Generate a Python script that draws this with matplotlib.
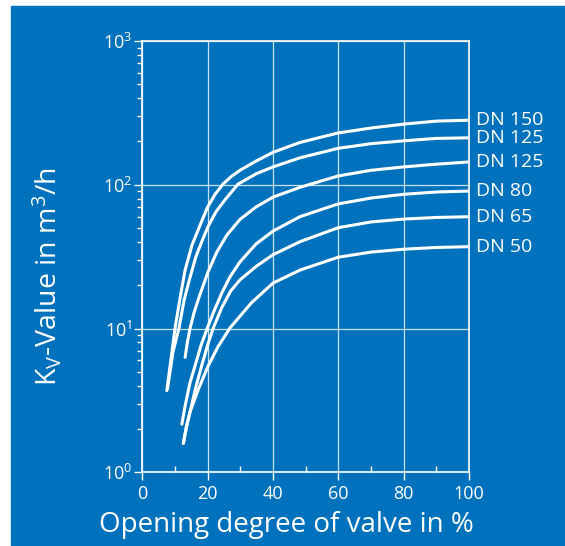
import matplotlib
matplotlib.use('Agg')
from matplotlib import pyplot as plt
from matplotlib.patches import Rectangle
from matplotlib.ticker import MultipleLocator, LogLocator

# Kv curves per nominal size (opening % -> Kv in m3/h)
dn150_open 	= [7.5, 10, 11.7, 13.1, 15.2, 17.7, 20, 22.3, 24.7, 27.2, 29.9, 34.8, 40, 48.3, 59.9, 70, 80, 90, 100]
dn150_kv 	= [3.7, 10, 17, 25.5, 38, 52.5, 70, 86, 101, 114, 126, 146, 168, 197, 229, 248, 264, 277, 281]

dn125a_open = [7.7, 9.4, 11.2, 12.8, 14.4, 16.4, 18.3, 20.1, 22.5, 25, 29.3, 34.8, 40, 48.3, 59.9, 70, 80, 90, 100]
dn125a_kv 	= [3.8, 6.9, 10, 15.8, 21.8, 31.6, 40.7, 51, 64.6, 77, 101, 119, 133, 154, 179, 193, 202, 210, 212]

dn125b_open = [13.1, 13.8, 14.6, 15.8, 17.4, 20.1, 22.8, 25.9, 29.9, 34.8, 40, 48.3, 59.9, 70, 80, 90, 100]
dn125b_kv 	= [6.3, 8.05, 10, 12.8, 16.6, 24.7, 34, 44.7, 57.4, 70, 82, 96, 115, 126, 133, 139, 144]

dn80_open 	= [12.1, 13.1, 14.6, 16.4, 17.9, 19.7, 22.0, 24.4, 26.8, 29.9, 34.8, 40, 48.3, 59.9, 70, 80, 90, 100]
dn80_kv 	= [2.16, 2.9, 4.2, 5.75, 7.55, 9.8, 13.3, 17.8, 22.8, 29.1, 38.7, 47.6, 60, 73.5, 80.8, 85.8, 89, 90.4]

dn65_open 	= [12.55, 13.5, 14.6, 16.4, 18.3, 20.1, 21.7, 24.4, 27.1, 29.9, 34.8, 40, 48.3, 59.9, 70, 80, 90, 100]
dn65_kv 	= [1.59, 2.07, 2.63, 3.93, 5.65, 7.81, 10.07, 14.1, 18.3, 21.8, 27.0, 32.6, 40.2, 50.2, 55.1, 57.7, 59.2, 59.9]

dn50_open 	= [12.55, 13.5, 14.6, 17.05, 20.1, 23.2, 26.85, 33.4, 40, 48.3, 59.9, 70, 80, 90, 100]
dn50_kv 	= [1.59, 2.07, 2.63, 3.73, 5.46, 7.5, 10.1, 15.1, 20.7, 25.5, 31.3, 34.0, 35.6, 36.6, 37.1]

curves = [
	('DN 150', dn150_open, dn150_kv),
	('DN 125', dn125a_open, dn125a_kv),
	('DN 125', dn125b_open, dn125b_kv),
	('DN 80', dn80_open, dn80_kv),
	('DN 65', dn65_open, dn65_kv),
	('DN 50', dn50_open, dn50_kv),
]

blue = '#0071bc'

plt.rcParams['font.family'] 		= ['Open Sans', 'DejaVu Sans']
plt.rcParams['mathtext.default'] 	= 'regular'

fig = plt.figure(figsize=(5.65, 5.46), dpi=100, facecolor='white')
fig.patches.append(Rectangle((11 / 565, 0), 1 - 11 / 565, 540 / 546,
							 transform=fig.transFigure, color=blue, zorder=-10))

ax = fig.add_axes([0.2519, 0.1350, 0.5782, 0.7900])
ax.patch.set_alpha(0)

ax.set_yscale('log')
ax.set_xlim(0, 100)
ax.set_ylim(1, 1000)

for spine in ax.spines.values():
	spine.set_color('white')
	spine.set_linewidth(1.2)

ax.xaxis.set_major_locator(MultipleLocator(20))
ax.xaxis.set_minor_locator(MultipleLocator(10))
ax.yaxis.set_major_locator(LogLocator(base=10))
ax.yaxis.set_minor_locator(LogLocator(base=10, subs=range(2, 10)))
ax.yaxis.set_minor_formatter(plt.NullFormatter())

ax.tick_params(axis='x', which='major', direction='out', length=6, width=1,
			   colors='white', labelsize=13, pad=3)
ax.tick_params(axis='x', which='minor', direction='in', length=4, width=1, colors='white')
ax.tick_params(axis='y', which='major', direction='out', length=6, width=1,
			   colors='white', labelsize=13, pad=1)
ax.tick_params(axis='y', which='minor', direction='out', length=3.5, width=1, colors='white')

ax.grid(True, which='major', color='white', linewidth=0.9, alpha=0.8)
ax.set_axisbelow(True)

for label, xs, ys in curves:
	ax.plot(xs, ys, color='white', linewidth=2.2, solid_capstyle='round',
			solid_joinstyle='round', zorder=3)
	ax.text(102.2, ys[-1], label, color='white', fontsize=14, va='center',
			ha='left', clip_on=False)

fig.text(286.5 / 565, 1 - 525 / 546, 'Opening degree of valve in %', color='white',
		 fontsize=20, ha='center', va='center')
fig.text(47 / 565, 1 - 277 / 546, 'K$_{V}$-Value in m$^{3}$/h', color='white',
		 fontsize=20.5, ha='center', va='center', rotation=90)

fig.savefig('out.png', dpi=100, facecolor='white')
